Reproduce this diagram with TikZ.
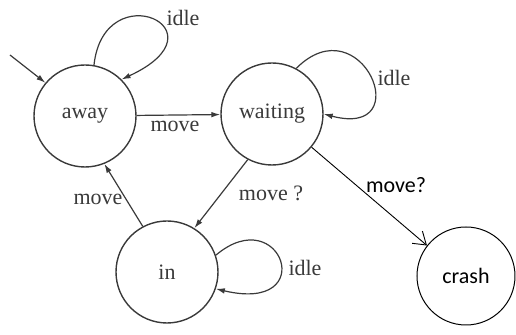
\documentclass[tikz,border=0pt]{standalone}
\usepackage{fontspec}
\setmainfont{Liberation Serif}
\newfontfamily\crashfont{Carlito}
\usetikzlibrary{arrows.meta,positioning}
\definecolor{scan}{HTML}{3A3A3A}
\tikzset{
    state/.style ={
        shape=circle,
        draw=scan,
        line width=0.7pt,
        text=scan,
        minimum size=51pt,
        inner sep=0pt,
        font=\fontsize{11}{12}\selectfont
    },
    crashstate/.style ={
        shape=circle,
        draw=black,
        line width=0.5pt,
        minimum size=49pt,
        inner sep=0pt,
        font=\crashfont\fontsize{11}{12}\selectfont
    },
    trans/.style ={
        draw=scan,
        line width=0.6pt,
        -{Latex[length=4.5pt,width=2.8pt]}
    },
    crashtrans/.style ={
        draw=black,
        line width=0.45pt,
        -{Straight Barb[length=6pt,width=8pt]}
    },
    lbl/.style ={
        text=scan,
        inner sep=0pt,
        font=\fontsize{11}{12}\selectfont
    },
    crashlbl/.style ={
        inner sep=0pt,
        font=\crashfont\fontsize{11}{12}\selectfont
    }
}

\begin{document}
\begin{tikzpicture}[x=0.5pt,y=-0.5pt]
        \useasboundingbox (0,0) rectangle (516,335);
        \node[state] (away) at(85,116) {away};
        \node[state] (waiting) at(272,114) {waiting};
        \node[state] (in) at(167,272) {in};
        \node[crashstate] (crash) at(466,276) {crash};
        \coordinate (start) at(10,55);
        % edges
        \draw[trans] (start) -- (away.140);
        \draw[trans] (away) -- (waiting);
        \draw[trans] (waiting.242) -- (in.58);
        \draw[trans] (in.118) -- (away.292);
        \draw[crashtrans] (waiting.-40) -- (crash.142);
        % loops
        \draw[trans] (away.80) .. controls +(10,-92) and +(108,-50) .. (away.45);
        \draw[trans] (waiting.62) .. controls +(65,-65) and +(95,25) .. (waiting.0);
        \draw[trans] (in.19) .. controls +(65,-55) and +(105,25) .. (in.-19);
        % labels
        \node[lbl] (idleaway) at(183,18) {idle};
        \node[lbl] (idlewaiting) at(394,78) {idle};
        \node[lbl] (idlein) at(305,268) {idle};
        \node[lbl] (moveaway) at(175,126) {move};
        \node[lbl] (movein) at(271,193) {move ?};
        \node[lbl] (moveback) at(98,199) {move};
        \node[crashlbl] (movecrash) at(396,185) {move?};
    \end{tikzpicture}
\end{document}
